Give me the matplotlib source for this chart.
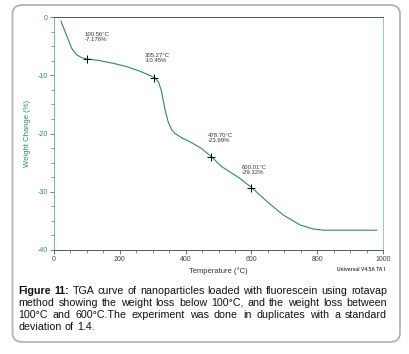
import matplotlib
matplotlib.use("Agg")
import matplotlib.pyplot as plt
from matplotlib.patches import FancyBboxPatch
from matplotlib.ticker import MultipleLocator

plt.rcParams['font.family'] = ['Liberation Sans', 'DejaVu Sans']

# TGA curve
temp = [21, 40, 54, 69, 85, 102, 140, 180, 220, 261, 290, 307, 318, 327, 337,
        347, 358, 368, 390, 413, 449, 478.7, 510, 560, 601, 650, 697, 748, 788,
        819, 900, 981]
weight = [-0.7, -3.4, -5.4, -6.5, -7.0, -7.2, -7.5, -7.95, -8.5, -9.3, -10.0,
          -10.45, -11.2, -12.8, -15.8, -18.0, -19.4, -20.0, -20.8, -21.4, -22.6,
          -24.0, -25.7, -27.5, -29.3, -31.8, -34.0, -35.7, -36.4, -36.6, -36.6,
          -36.6]

# marked points
mark_t = [100.56, 305.27, 478.70, 600.01]
mark_w = [-7.176, -10.45, -23.99, -29.32]
mark_txt = ["100.56°C\n-7.176%", "305.27°C\n-10.45%", "478.70°C\n-23.99%",
            "600.01°C\n-29.32%"]

caption_lines = [
    "Figure 11: TGA curve of nanoparticles loaded with fluorescein using rotavap",
    "method showing the weight loss below 100°C, and the weight loss between",
    "100°C and 600°C.The experiment was done in duplicates with a standard",
    "deviation of 1.4.",
]

W, H = 409, 354
green = '#2e8b5e'
fig = plt.figure(figsize=(W / 100, H / 100), dpi=100)

# rounded frame around chart + caption
box = FancyBboxPatch((12.5 / W, 1 - 342 / H), (400 - 12.5) / W, (342 - 5) / H,
                     boxstyle="round,pad=0,rounding_size=0.025",
                     transform=fig.transFigure, fc='none', ec='#b4b4b4',
                     lw=1.3, zorder=-1)
fig.patches.append(box)

ax = fig.add_axes([54 / W, 1 - 250 / H, 329 / W, 233 / H])
ax.patch.set_alpha(0)
ax.plot(temp, weight, color=green, lw=0.8)
ax.plot(mark_t, mark_w, ls='none', marker='+', ms=6, mew=0.7, color='black')

offs = [(-2, 12), (-7, 11), (-3, 10), (-7, 9)]
for t, w, s, o in zip(mark_t, mark_w, mark_txt, offs):
    ax.annotate(s, (t, w), xytext=o, textcoords='offset points', fontsize=4.3,
                color='#333333', linespacing=1.0, va='bottom', ha='left')

ax.set_xlim(0, 1000)
ax.set_ylim(-40, 0)
ax.xaxis.set_major_locator(MultipleLocator(200))
ax.xaxis.set_minor_locator(MultipleLocator(50))
ax.yaxis.set_major_locator(MultipleLocator(10))
ax.yaxis.set_minor_locator(MultipleLocator(2.5))
ax.tick_params(axis='x', which='major', length=3, width=0.6, labelsize=5,
               color='#555555', labelcolor='#444444', pad=1.5)
ax.tick_params(axis='x', which='minor', length=2, width=0.5, color='#555555')
ax.tick_params(axis='y', which='major', length=3, width=0.6, labelsize=5,
               color=green, labelcolor=green, pad=1.5)
ax.tick_params(axis='y', which='minor', length=2, width=0.5, color=green)
ax.set_yticks([-40, -30, -20, -10, 0])
ax.set_yticklabels(['-40', '-30', '-20', '-10', '0'])

for side in ['top', 'bottom']:
    ax.spines[side].set_color('#555555')
    ax.spines[side].set_linewidth(0.7)
ax.spines['left'].set_color('#6fb89a')
ax.spines['right'].set_color('#8ccfc0')
ax.spines['left'].set_linewidth(0.7)
ax.spines['right'].set_linewidth(0.7)

ax.set_xlabel('Temperature (°C)', fontsize=5.5, color='#333333', labelpad=3)
ax.set_ylabel('Weight Change (%)', fontsize=5.5, color=green, labelpad=5)

fig.text(385 / W, 1 - 269.5 / H, 'Universal V4.5A TA I', fontsize=3.6,
         color='#444444', ha='right', va='center', fontweight='bold')

# justified caption
renderer = fig.canvas.get_renderer()
x0, x1 = 18.5, 387
y_first = 290.5
step = 12.2
fs = 7.7
for i, line in enumerate(caption_lines):
    words = line.split(' ')
    y = 1 - (y_first + i * step) / H
    objs = []
    for j, wd in enumerate(words):
        bold = i == 0 and j < 2
        objs.append(fig.text(0, y, wd, fontsize=fs, va='center', ha='left',
                             color='#111111',
                             fontweight='bold' if bold else 'normal'))
    widths = [o.get_window_extent(renderer).width for o in objs]
    if i < len(caption_lines) - 1:
        gap = (x1 - x0 - sum(widths)) / (len(words) - 1)
    else:
        gap = fig.text(0, 0, ' ', fontsize=fs).get_window_extent(renderer).width
    x = x0
    for o, wdt in zip(objs, widths):
        o.set_x(x / W)
        x += wdt + gap

fig.savefig('out.png', dpi=100)
